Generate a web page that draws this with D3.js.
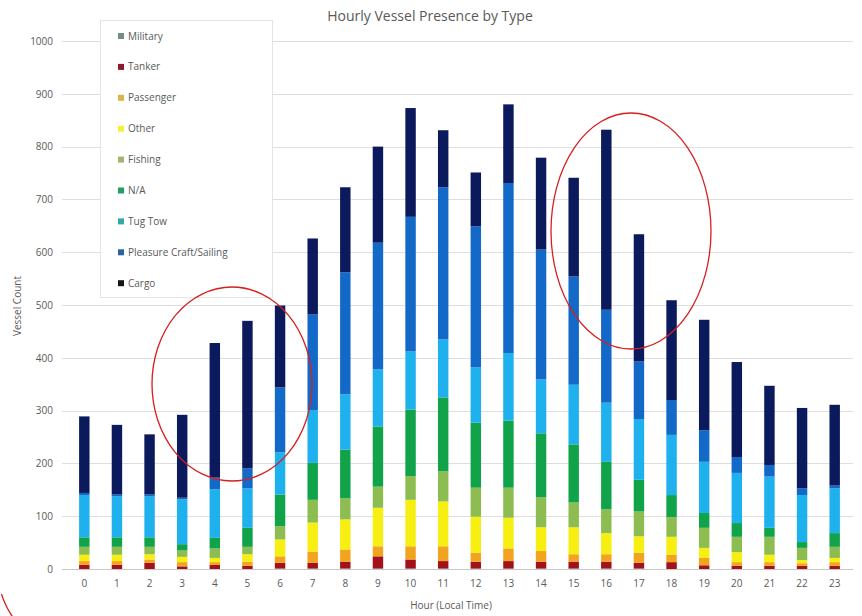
<!DOCTYPE html>
<html>
<head>
<meta charset="utf-8">
<script src="https://cdn.jsdelivr.net/npm/d3@7"></script>
<style>
  html, body { margin: 0; padding: 0; background: #ffffff; }
  svg { display: block; font-family: "Open Sans", "DejaVu Sans", sans-serif; }
</style>
</head>
<body>
<svg id="chart" width="862" height="616"></svg>
<script>
// Hours of the day (x categories)
const hours = d3.range(0, 24).map(String);

// Vessel counts per hour, one array per vessel type (stacked bottom to top)
const military  = [0, 0, 0, 0, 0, 0, 1, 1, 1, 1, 1, 1, 1, 1, 1, 1, 1, 1, 0, 0, 0, 0, 0, 0];
const tanker    = [8, 8, 12, 5, 8, 6, 11, 11, 13, 23, 17, 14, 13, 14, 13, 13, 13, 11, 13, 7, 6, 6, 6, 6];
const passenger = [7, 7, 6, 8, 5, 8, 12, 21, 23, 19, 25, 28, 17, 24, 20, 14, 14, 19, 14, 14, 7, 7, 5, 7];
const other     = [12, 12, 10, 10, 8, 14, 32, 55, 57, 73, 88, 85, 68, 58, 45, 51, 40, 31, 34, 19, 19, 14, 6, 8];
const fishing   = [15, 15, 14, 12, 18, 14, 25, 43, 40, 40, 45, 57, 55, 57, 57, 47, 45, 47, 37, 38, 29, 34, 23, 21];
const na        = [18, 18, 18, 12, 20, 36, 60, 70, 92, 114, 126, 140, 123, 127, 121, 110, 90, 60, 42, 28, 26, 17, 11, 26];
const tugTow    = [80, 78, 78, 85, 92, 75, 80, 100, 105, 108, 110, 110, 105, 128, 102, 113, 112, 115, 114, 97, 95, 97, 89, 85];
const pleasure  = [4, 3, 3, 3, 22, 38, 123, 181, 231, 240, 255, 288, 267, 322, 246, 205, 176, 109, 66, 60, 30, 22, 13, 5];
const cargo     = [145, 132, 114, 157, 255, 279, 155, 144, 161, 182, 206, 108, 102, 149, 174, 187, 341, 241, 189, 209, 180, 150, 152, 153];

// Series names, stack order and colours
const seriesNames  = ["Military", "Tanker", "Passenger", "Other", "Fishing", "N/A", "Tug Tow", "Pleasure Craft/Sailing", "Cargo"];
const seriesValues = [military, tanker, passenger, other, fishing, na, tugTow, pleasure, cargo];
const barColors    = ["#6f8f80", "#a3121a", "#f3a41f", "#f7ee12", "#8dbd50", "#11a34a", "#1fb0ee", "#1369c7", "#0b1a5c"];
const swatchColors = ["#6f8f80", "#8e1a2c", "#dcb447", "#f3ef3a", "#a6b274", "#22a063", "#2fa9a5", "#2c63a6", "#151515"];

// y-axis ticks
const yTicks = d3.range(0, 1001, 100);

const keys = seriesNames;
const table = hours.map((h, i) => {
  const row = { hour: h };
  seriesNames.forEach((n, s) => { row[n] = seriesValues[s][i]; });
  return row;
});

const svg = d3.select("#chart");
const W = 862, H = 616;
const margin = { left: 68, right: 11, top: 41, bottom: 47 };

const x = d3.scaleBand()
  .domain(hours)
  .range([margin.left, W - margin.right])
  .paddingInner(0.68)
  .paddingOuter(0.34);

const y = d3.scaleLinear()
  .domain([0, 1000])
  .range([H - margin.bottom, margin.top]);

const textColor = "#595959";

// Horizontal gridlines
svg.append("g")
  .selectAll("line")
  .data(yTicks)
  .join("line")
  .attr("x1", 62)
  .attr("x2", 853)
  .attr("y1", d => Math.round(y(d)) + 0.5)
  .attr("y2", d => Math.round(y(d)) + 0.5)
  .attr("stroke", d => d === 0 ? "#c8c8c8" : "#dedede")
  .attr("stroke-width", 1);

// y-axis labels
const yAxis = d3.axisLeft(y).tickValues(yTicks).tickFormat(d3.format("d")).tickSize(0).tickPadding(0);
svg.append("g")
  .attr("transform", "translate(53,0)")
  .call(yAxis)
  .call(g => g.select(".domain").remove())
  .call(g => g.selectAll("text")
    .attr("fill", textColor)
    .attr("font-size", 10)
    .attr("font-family", "'Open Sans', sans-serif"));

// x-axis labels
const xAxis = d3.axisBottom(x).tickSize(0).tickPadding(0);
svg.append("g")
  .attr("transform", `translate(0,${H - margin.bottom + 11})`)
  .call(xAxis)
  .call(g => g.select(".domain").remove())
  .call(g => g.selectAll("text")
    .attr("fill", textColor)
    .attr("font-size", 10)
    .attr("font-family", "'Open Sans', sans-serif"));

// Stacked bars
const stack = d3.stack().keys(keys);
const stacked = stack(table);

svg.append("g")
  .selectAll("g")
  .data(stacked)
  .join("g")
  .attr("fill", (d, i) => barColors[i])
  .selectAll("rect")
  .data(d => d)
  .join("rect")
  .attr("x", d => x(d.data.hour))
  .attr("width", x.bandwidth())
  .attr("y", d => y(d[1]))
  .attr("height", d => Math.max(0, y(d[0]) - y(d[1])));

// Title
svg.append("text")
  .attr("x", 430)
  .attr("y", 21)
  .attr("text-anchor", "middle")
  .attr("fill", textColor)
  .attr("font-size", 14)
  .text("Hourly Vessel Presence by Type");

// Axis titles
svg.append("text")
  .attr("transform", "translate(21,306) rotate(-90)")
  .attr("text-anchor", "middle")
  .attr("fill", textColor)
  .attr("font-size", 10)
  .text("Vessel Count");

svg.append("text")
  .attr("x", 451)
  .attr("y", 609)
  .attr("text-anchor", "middle")
  .attr("fill", textColor)
  .attr("font-size", 10)
  .text("Hour (Local Time)");

// Legend box
const legend = svg.append("g");
legend.append("rect")
  .attr("x", 100.5)
  .attr("y", 20.5)
  .attr("width", 172)
  .attr("height", 277)
  .attr("fill", "#ffffff")
  .attr("stroke", "#e4e4e4");

const legendItems = legend.selectAll("g.item")
  .data(seriesNames)
  .join("g")
  .attr("class", "item")
  .attr("transform", (d, i) => `translate(118,${36 + i * 30.9})`);

legendItems.append("rect")
  .attr("x", 0)
  .attr("y", -3)
  .attr("width", 6)
  .attr("height", 6)
  .attr("fill", (d, i) => swatchColors[i]);

legendItems.append("text")
  .attr("x", 10)
  .attr("y", 3.5)
  .attr("fill", textColor)
  .attr("font-size", 10)
  .text(d => d);

// Red highlight ellipses
const marks = svg.append("g")
  .attr("fill", "none")
  .attr("stroke", "#d81e1e")
  .attr("stroke-width", 1.3);

marks.append("ellipse").attr("cx", 232).attr("cy", 384).attr("rx", 80).attr("ry", 97);
marks.append("ellipse").attr("cx", 631).attr("cy", 231).attr("rx", 80).attr("ry", 118);
marks.append("ellipse").attr("cx", 75).attr("cy", 570).attr("rx", 77).attr("ry", 80)
  .attr("clip-path", "url(#cornerClip)");

svg.append("clipPath").attr("id", "cornerClip")
  .append("rect").attr("x", 0).attr("y", 594).attr("width", 30).attr("height", 22);
</script>
</body>
</html>
